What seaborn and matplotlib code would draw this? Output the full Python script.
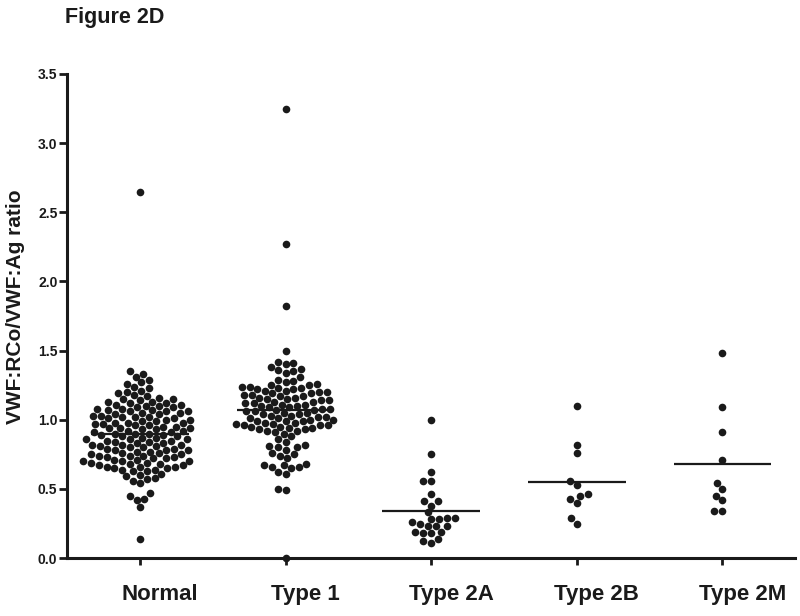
import numpy as np
import pandas as pd
import matplotlib
matplotlib.use('Agg')
import matplotlib.pyplot as plt
import matplotlib.transforms as mtransforms
import seaborn as sns

groups = ['Normal', 'Type 1', 'Type 2A', 'Type 2B', 'Type 2M']

normal = [2.65,
          1.35, 1.33, 1.31, 1.29, 1.27, 1.26, 1.24, 1.23, 1.21, 1.20, 1.19, 1.18,
          1.17, 1.16, 1.15, 1.15, 1.14, 1.13, 1.13, 1.12, 1.12, 1.11, 1.11, 1.10, 1.10,
          1.09, 1.09, 1.08, 1.08, 1.07, 1.07, 1.06, 1.06, 1.06, 1.05, 1.05,
          1.04, 1.04, 1.03, 1.03, 1.02, 1.02, 1.02, 1.01, 1.01, 1.00, 1.00,
          0.99, 0.99, 0.98, 0.98, 0.98, 0.97, 0.97, 0.96, 0.96, 0.95, 0.95,
          0.94, 0.94, 0.94, 0.93, 0.93, 0.92, 0.92, 0.91, 0.91, 0.90, 0.90, 0.90,
          0.89, 0.89, 0.88, 0.88, 0.87, 0.87, 0.86, 0.86, 0.86, 0.85, 0.85,
          0.84, 0.84, 0.83, 0.83, 0.82, 0.82, 0.82, 0.81, 0.81, 0.80, 0.80,
          0.79, 0.79, 0.78, 0.78, 0.78, 0.77, 0.77, 0.76, 0.76, 0.75, 0.75,
          0.74, 0.74, 0.74, 0.73, 0.73, 0.72, 0.72, 0.71, 0.71, 0.70, 0.70, 0.70,
          0.69, 0.69, 0.68, 0.68, 0.67, 0.67, 0.66, 0.66, 0.66, 0.65, 0.65,
          0.64, 0.64, 0.63, 0.63,
          0.61, 0.60, 0.59, 0.58, 0.57, 0.56, 0.54, 0.47, 0.45, 0.43, 0.42, 0.37, 0.14]

type1 = [3.25, 2.27, 1.82, 1.50,
         1.42, 1.41, 1.40, 1.38, 1.37, 1.36, 1.35, 1.34, 1.31, 1.29, 1.28, 1.27, 1.26,
         1.25, 1.25, 1.24, 1.24, 1.23, 1.23, 1.22, 1.22, 1.21, 1.21,
         1.20, 1.20, 1.19, 1.19, 1.18, 1.18, 1.17, 1.17, 1.16, 1.16,
         1.15, 1.15, 1.14, 1.14, 1.13, 1.13, 1.12, 1.12, 1.11, 1.11,
         1.10, 1.10, 1.09, 1.09, 1.08, 1.08, 1.07, 1.07, 1.06, 1.06,
         1.05, 1.05, 1.04, 1.04, 1.03, 1.03, 1.02, 1.02, 1.01, 1.01,
         1.00, 1.00, 0.99, 0.99, 0.99, 0.98, 0.98, 0.97, 0.97, 0.96, 0.96, 0.96,
         0.95, 0.95, 0.94, 0.94, 0.93, 0.93, 0.92, 0.92, 0.91, 0.90,
         0.88, 0.86, 0.84, 0.82, 0.81, 0.80, 0.80, 0.78, 0.76, 0.75, 0.74, 0.72,
         0.68, 0.67, 0.67, 0.66, 0.66, 0.65, 0.62, 0.61, 0.50, 0.49, 0.00]

type2a = [1.00, 0.75, 0.62, 0.56, 0.56, 0.46, 0.41, 0.41, 0.38, 0.33, 0.29, 0.29, 0.28,
          0.26, 0.28, 0.25, 0.23, 0.23, 0.23, 0.19, 0.18, 0.18, 0.19, 0.14, 0.11, 0.12]

type2b = [1.10, 0.82, 0.76, 0.56, 0.53, 0.46, 0.43, 0.45, 0.40, 0.29, 0.25]

type2m = [1.48, 1.09, 0.91, 0.71, 0.54, 0.50, 0.42, 0.45, 0.34, 0.34]

all_vals = [normal, type1, type2a, type2b, type2m]
df = pd.DataFrame({
    'group': np.repeat(groups, [len(v) for v in all_vals]),
    'ratio': np.concatenate(all_vals),
})

sns.set_style('ticks')
plt.rcParams['font.family'] = ['Liberation Sans', 'DejaVu Sans']
plt.rcParams['font.weight'] = 'bold'

ink = '#1a1a1a'
fig = plt.figure(figsize=(8, 6.16), dpi=100)
ax = fig.add_axes([0.084, 0.094, 0.91, 0.786])

sns.swarmplot(data=df, x='group', y='ratio', order=groups, color=ink,
              size=5.5, linewidth=0, ax=ax, clip_on=False, zorder=3)

# mean lines
means = df.groupby('group')['ratio'].mean().reindex(groups)
pos = np.arange(len(groups))
ax.hlines(means.values, pos - 0.335, pos + 0.335, color=ink, lw=1.6, zorder=4)

ax.set_xlim(-0.5, 4.5)
ax.set_ylim(0, 3.5)
ax.set_yticks(np.arange(0, 3.51, 0.5))
ax.set_yticklabels([f'{t:.1f}' for t in np.arange(0, 3.51, 0.5)])
ax.set_xlabel('')
ax.set_ylabel('VWF:RCo/VWF:Ag ratio', fontsize=15, fontweight='bold', color=ink)
ax.yaxis.set_label_coords(-0.058, 0.52)

sns.despine(ax=ax)
for s in ['left', 'bottom']:
    ax.spines[s].set_linewidth(2.2)
    ax.spines[s].set_color(ink)
ax.tick_params(axis='y', length=6, width=2, labelsize=10, pad=1, colors=ink)
ax.tick_params(axis='x', length=5, width=2, labelsize=16, pad=14, colors=ink)

shift = mtransforms.ScaledTranslation(0.2, 0, fig.dpi_scale_trans)
for lab in ax.get_xticklabels():
    lab.set_transform(lab.get_transform() + shift)

fig.text(65 / 800, 1 - 23 / 616, 'Figure 2D', fontsize=15.5, fontweight='bold',
         va='baseline', color=ink)

fig.savefig('out.png', dpi=100)
